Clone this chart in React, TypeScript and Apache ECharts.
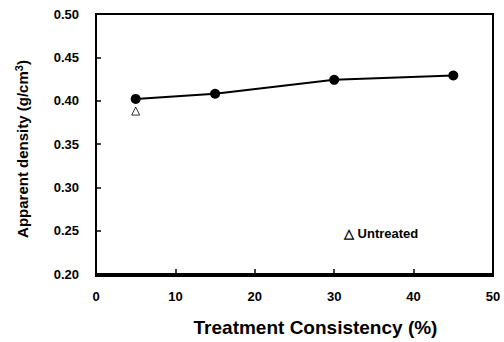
import React, { useEffect, useRef } from "react";
import * as echarts from "echarts";

const consistency = [5, 15, 30, 45];
const treatedDensity = [0.402, 0.408, 0.424, 0.429];
const untreatedX = [5];
const untreatedDensity = [0.388];
const xTicks = [0, 10, 20, 30, 40, 50];
const yTicks = [0.2, 0.25, 0.3, 0.35, 0.4, 0.45, 0.5];

export default function App() {
  const ref = useRef<HTMLDivElement>(null);
  useEffect(() => {
    if (!ref.current) return;
    const chart = echarts.init(ref.current, null, { renderer: "svg" });
    const font = "Liberation Sans, Arial, sans-serif";
    chart.setOption({
      animation: false,
      backgroundColor: "#fff",
      grid: { left: 96, right: 11, top: 14, bottom: 66 },
      xAxis: {
        type: "value",
        min: xTicks[0],
        max: xTicks[xTicks.length - 1],
        interval: 10,
        axisLine: { show: true, lineStyle: { color: "#000", width: 2 } },
        axisTick: { show: true, inside: true, length: 5, lineStyle: { color: "#000", width: 1.5 } },
        splitLine: { show: false },
        axisLabel: { color: "#000", fontFamily: font, fontWeight: "bold", fontSize: 13, margin: 16 },
        name: "Treatment Consistency (%)",
        nameLocation: "middle",
        nameGap: 44,
        nameTextStyle: { color: "#000", fontFamily: font, fontWeight: "bold", fontSize: 19, padding: [0, 0, 0, 42] },
      },
      yAxis: {
        type: "value",
        min: yTicks[0],
        max: yTicks[yTicks.length - 1],
        interval: 0.05,
        axisLine: { show: true, lineStyle: { color: "#000", width: 2 } },
        axisTick: { show: true, inside: true, length: 5, lineStyle: { color: "#000", width: 1.5 } },
        splitLine: { show: false },
        axisLabel: {
          color: "#000",
          fontFamily: font,
          fontWeight: "bold",
          fontSize: 13,
          margin: 17,
          formatter: (v: number) => v.toFixed(2),
        },
        name: "Apparent density (g/cm{sup|3})",
        nameLocation: "middle",
        nameGap: 64,
        nameTextStyle: {
          color: "#000",
          fontFamily: font,
          fontWeight: "bold",
          fontSize: 15,
          padding: [0, 10, 0, 0],
          rich: {
            sup: { fontSize: 11, fontWeight: "bold", fontFamily: font, verticalAlign: "top", padding: [0, 0, 8, 0] },
          },
        },
      },
      series: [
        {
          type: "line",
          data: consistency.map((x, i) => [x, treatedDensity[i]]),
          symbol: "circle",
          symbolSize: 10,
          itemStyle: { color: "#000" },
          lineStyle: { color: "#000", width: 2 },
        },
        {
          type: "scatter",
          data: untreatedX.map((x, i) => [x, untreatedDensity[i]]),
          symbol: "triangle",
          symbolSize: 8,
          itemStyle: { color: "#fff", borderColor: "#000", borderWidth: 1 },
        },
      ],
      graphic: [
        {
          type: "rect",
          shape: { x: 96, y: 14, width: 397, height: 262 },
          style: { fill: "none", stroke: "#000", lineWidth: 2 },
          silent: true,
        },
        {
          type: "text",
          left: 344,
          top: 227,
          style: { text: "△ Untreated", font: `bold 13px ${font}`, fill: "#000" },
        },
      ],
    });
    return () => chart.dispose();
  }, []);
  return <div ref={ref} style={{ position: "fixed", left: 0, top: 0, width: 504, height: 342 }} />;
}
